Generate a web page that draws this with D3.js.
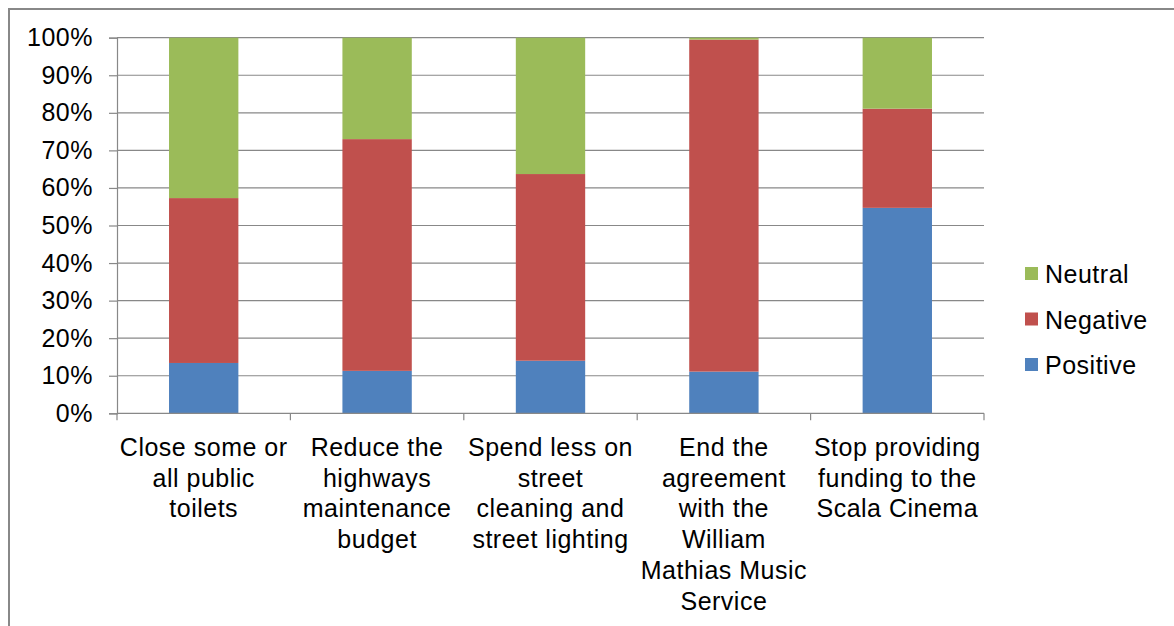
<!DOCTYPE html>
<html>
<head>
<meta charset="utf-8">
<script src="https://cdn.jsdelivr.net/npm/d3@7"></script>
<style>
  html, body { margin: 0; padding: 0; background: #fff; }
  svg { display: block; font-family: "Liberation Sans", Arial, sans-serif; }
  text { letter-spacing: 0.5px; }
</style>
</head>
<body>
<svg id="chart" width="1174" height="626"></svg>
<script>
const categories = [
  ["Close some or", "all public", "toilets"],
  ["Reduce the", "highways", "maintenance", "budget"],
  ["Spend less on", "street", "cleaning and", "street lighting"],
  ["End the", "agreement", "with the", "William", "Mathias Music", "Service"],
  ["Stop providing", "funding to the", "Scala Cinema"]
];
const positive = [13.4, 11.3, 14.0, 11.1, 54.7];
const negative = [43.9, 61.7, 49.7, 88.4, 26.4];
const neutral  = [42.7, 27.0, 36.3, 0.5, 18.9];
const seriesNames = ["Positive", "Negative", "Neutral"];
const seriesColors = ["#4F81BD", "#C0504D", "#9BBB59"];
const yTicks = [0, 10, 20, 30, 40, 50, 60, 70, 80, 90, 100];

const svg = d3.select("#chart");
const mLeft = 117, mRight = 984, mTop = 37.7, mBottom = 413.3;
const fontSize = 25;

// outer border
svg.append("rect").attr("x", 9).attr("y", 9).attr("width", 1200).attr("height", 700)
  .attr("fill", "none").attr("stroke", "#888").attr("stroke-width", 2);

const idx = categories.map((d, i) => i);
const x = d3.scaleBand().domain(idx).range([mLeft, mRight]).paddingInner(0.6).paddingOuter(0.3);
const y = d3.scaleLinear().domain([0, 100]).range([mBottom, mTop]);

// gridlines
svg.append("g").selectAll("line").data(yTicks.filter(t => t > 0)).join("line")
  .attr("x1", mLeft).attr("x2", mRight)
  .attr("y1", d => y(d)).attr("y2", d => y(d))
  .attr("stroke", "#888").attr("stroke-width", 1.2);

// y axis
const yAxis = d3.axisLeft(y).tickValues(yTicks).tickSize(8).tickPadding(16).tickFormat(d => d + "%");
const gy = svg.append("g").attr("transform", `translate(${mLeft},0)`).call(yAxis);
gy.select(".domain").attr("stroke", "#888").attr("stroke-width", 1.2);
gy.selectAll(".tick line").attr("stroke", "#888").attr("stroke-width", 1.2);
gy.selectAll(".tick text").attr("font-size", fontSize).attr("font-family", "Liberation Sans, Arial, sans-serif").attr("fill", "#000");

// stacked bars
const rows = idx.map(i => ({ i, Positive: positive[i], Negative: negative[i], Neutral: neutral[i] }));
const stack = d3.stack().keys(seriesNames)(rows);
const color = d3.scaleOrdinal().domain(seriesNames).range(seriesColors);
svg.append("g").selectAll("g").data(stack).join("g")
  .attr("fill", d => color(d.key))
  .selectAll("rect").data(d => d).join("rect")
  .attr("x", d => x(d.data.i))
  .attr("width", x.bandwidth())
  .attr("y", d => y(d[1]))
  .attr("height", d => y(d[0]) - y(d[1]));

// x axis line and ticks at category boundaries
svg.append("line").attr("x1", mLeft).attr("x2", mRight).attr("y1", mBottom).attr("y2", mBottom)
  .attr("stroke", "#888").attr("stroke-width", 1.2);
const step = x.step();
const bounds = d3.range(categories.length + 1).map(k => mLeft + k * step);
svg.append("g").selectAll("line").data(bounds).join("line")
  .attr("x1", d => d).attr("x2", d => d).attr("y1", mBottom).attr("y2", mBottom + 7)
  .attr("stroke", "#888").attr("stroke-width", 1.2);

// category labels
const lab = svg.append("g").attr("font-size", fontSize).attr("text-anchor", "middle").attr("fill", "#000");
categories.forEach((lines, i) => {
  const cx = x(i) + x.bandwidth() / 2;
  const t = lab.append("text").attr("x", cx).attr("y", 456);
  lines.forEach((ln, k) => {
    t.append("tspan").attr("x", cx).attr("y", 456 + k * 30.7).text(ln);
  });
});

// legend
const legendItems = ["Neutral", "Negative", "Positive"];
const lg = svg.append("g");
legendItems.forEach((name, k) => {
  const cy = 274 + k * 45.5;
  lg.append("rect").attr("x", 1025).attr("y", cy - 7).attr("width", 13).attr("height", 13).attr("fill", color(name));
  lg.append("text").attr("x", 1045).attr("y", cy + 9).attr("font-size", fontSize).attr("fill", "#000").text(name);
});
</script>
</body>
</html>
